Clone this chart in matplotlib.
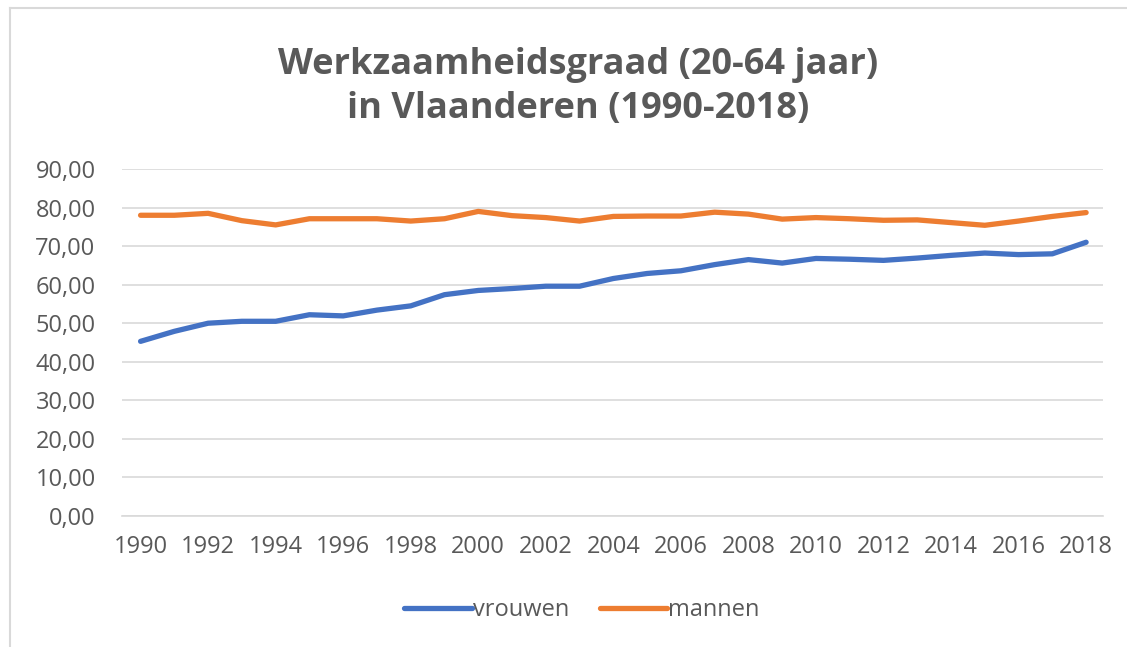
import numpy as np
import matplotlib.pyplot as plt
from matplotlib.ticker import FuncFormatter
from matplotlib.lines import Line2D

years = list(range(1990, 2019))
vrouwen = [45.3, 47.9, 50.0, 50.5, 50.5, 52.2, 51.9, 53.4, 54.5, 57.4,
           58.5, 59.0, 59.6, 59.6, 61.6, 62.9, 63.6, 65.2, 66.5, 65.6,
           66.8, 66.6, 66.3, 66.9, 67.6, 68.2, 67.8, 68.0, 71.0]
mannen = [78.0, 78.0, 78.5, 76.6, 75.5, 77.1, 77.1, 77.1, 76.5, 77.1,
          79.0, 77.9, 77.4, 76.5, 77.7, 77.8, 77.8, 78.8, 78.3, 77.0,
          77.4, 77.1, 76.7, 76.8, 76.1, 75.4, 76.5, 77.7, 78.7]
labels = ['vrouwen', 'mannen']
colors = ['#4472C4', '#ED7D31']
grey = '#595959'

plt.rcParams['font.family'] = ['Open Sans', 'DejaVu Sans']

fig = plt.figure(figsize=(11.27, 6.47), dpi=100)
ax = fig.add_axes([122/1127, 131/647, 981/1127, 347/647])

# light frame top and left, like the screenshot
fig.add_artist(Line2D([10/1127, 1], [1 - 8/647, 1 - 8/647], color='#D9D9D9', lw=1.5))
fig.add_artist(Line2D([10/1127, 10/1127], [0, 1 - 8/647], color='#D9D9D9', lw=1.5))

ax.plot(years, vrouwen, color=colors[0], lw=3.8, solid_capstyle='round', label=labels[0])
ax.plot(years, mannen, color=colors[1], lw=3.8, solid_capstyle='round', label=labels[1])

ax.set_xlim(1989.45, 2018.5)
ax.set_ylim(0, 90)
ax.set_yticks(np.arange(0, 91, 10))
ax.set_xticks(years[::2])
ax.yaxis.set_major_formatter(FuncFormatter(lambda v, p: f'{v:.2f}'.replace('.', ',')))
ax.grid(axis='y', color='#D9D9D9', lw=1.2)
ax.set_axisbelow(True)
for s in ['top', 'right', 'left']:
    ax.spines[s].set_visible(False)
ax.spines['bottom'].set_color('#D9D9D9')
ax.spines['bottom'].set_linewidth(1.2)
ax.tick_params(axis='both', length=0, labelsize=17, colors=grey)
ax.tick_params(axis='y', pad=19)
ax.tick_params(axis='x', pad=14)

fig.text(0.513, 1 - 87/647, 'Werkzaamheidsgraad (20-64 jaar)\nin Vlaanderen (1990-2018)',
         ha='center', va='center', fontsize=26, fontweight='bold', color=grey,
         linespacing=1.3)

ax.legend(loc='center', bbox_to_anchor=(0.469, -0.271), ncol=2, frameon=False,
          fontsize=17, labelcolor=grey, handlelength=2.85, handletextpad=0.05,
          columnspacing=1.3)

fig.savefig('out.png', dpi=100, facecolor='white')
